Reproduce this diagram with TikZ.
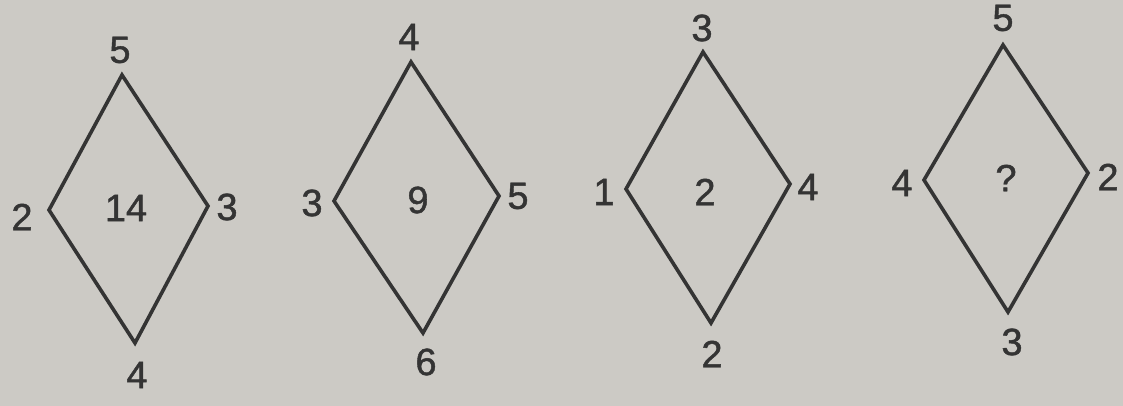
\documentclass[tikz,border=0pt]{standalone}
\usepackage{fontspec}
\setmainfont{Liberation Sans}[FakeBold=1.2]
\definecolor{paper}{RGB}{204,202,197}
\definecolor{ink}{RGB}{52,52,52}
\begin{document}
\begin{tikzpicture}[x=1pt,y=-1pt,
  edge/.style={draw=ink,line width=3.6pt,line join=miter},
  num/.style={text=ink,font=\fontsize{38}{38}\selectfont,inner sep=0pt,anchor=center}]
\fill[paper] (0,0) rectangle (1123,406);
\useasboundingbox (0,0) rectangle (1123,406);
% diamond 1
\coordinate (t1) at (122,75); \coordinate (r1) at (208,206);
\coordinate (b1) at (135,343); \coordinate (l1) at (49,210);
\draw[edge] (t1) -- (r1) -- (b1) -- (l1) -- cycle;
\node[num] (c1) at (126,208) {14};
\node[num] (nt1) at (120,50) {5};
\node[num] (nl1) at (22,217) {2};
\node[num] (nr1) at (227,207) {3};
\node[num] (nb1) at (137,375) {4};
% diamond 2
\coordinate (t2) at (411,62); \coordinate (r2) at (499,196);
\coordinate (b2) at (423,333); \coordinate (l2) at (334,201);
\draw[edge] (t2) -- (r2) -- (b2) -- (l2) -- cycle;
\node[num] (c2) at (418,200) {9};
\node[num] (nt2) at (409,37) {4};
\node[num] (nl2) at (312,203) {3};
\node[num] (nr2) at (518,196) {5};
\node[num] (nb2) at (426,362) {6};
% diamond 3
\coordinate (t3) at (703,52); \coordinate (r3) at (790,184);
\coordinate (b3) at (711,323); \coordinate (l3) at (626,189);
\draw[edge] (t3) -- (r3) -- (b3) -- (l3) -- cycle;
\node[num] (c3) at (705,192) {2};
\node[num] (nt3) at (702,28) {3};
\node[num] (nl3) at (604,192) {1};
\node[num] (nr3) at (808,187) {4};
\node[num] (nb3) at (712,354) {2};
% diamond 4
\coordinate (t4) at (1003,45); \coordinate (r4) at (1088,173);
\coordinate (b4) at (1008,312); \coordinate (l4) at (924,180);
\draw[edge] (t4) -- (r4) -- (b4) -- (l4) -- cycle;
\node[num] (c4) at (1006,178) {?};
\node[num] (nt4) at (1003,18) {5};
\node[num] (nl4) at (902,183) {4};
\node[num] (nr4) at (1108,177) {2};
\node[num] (nb4) at (1012,342) {3};
\end{tikzpicture}
\end{document}
